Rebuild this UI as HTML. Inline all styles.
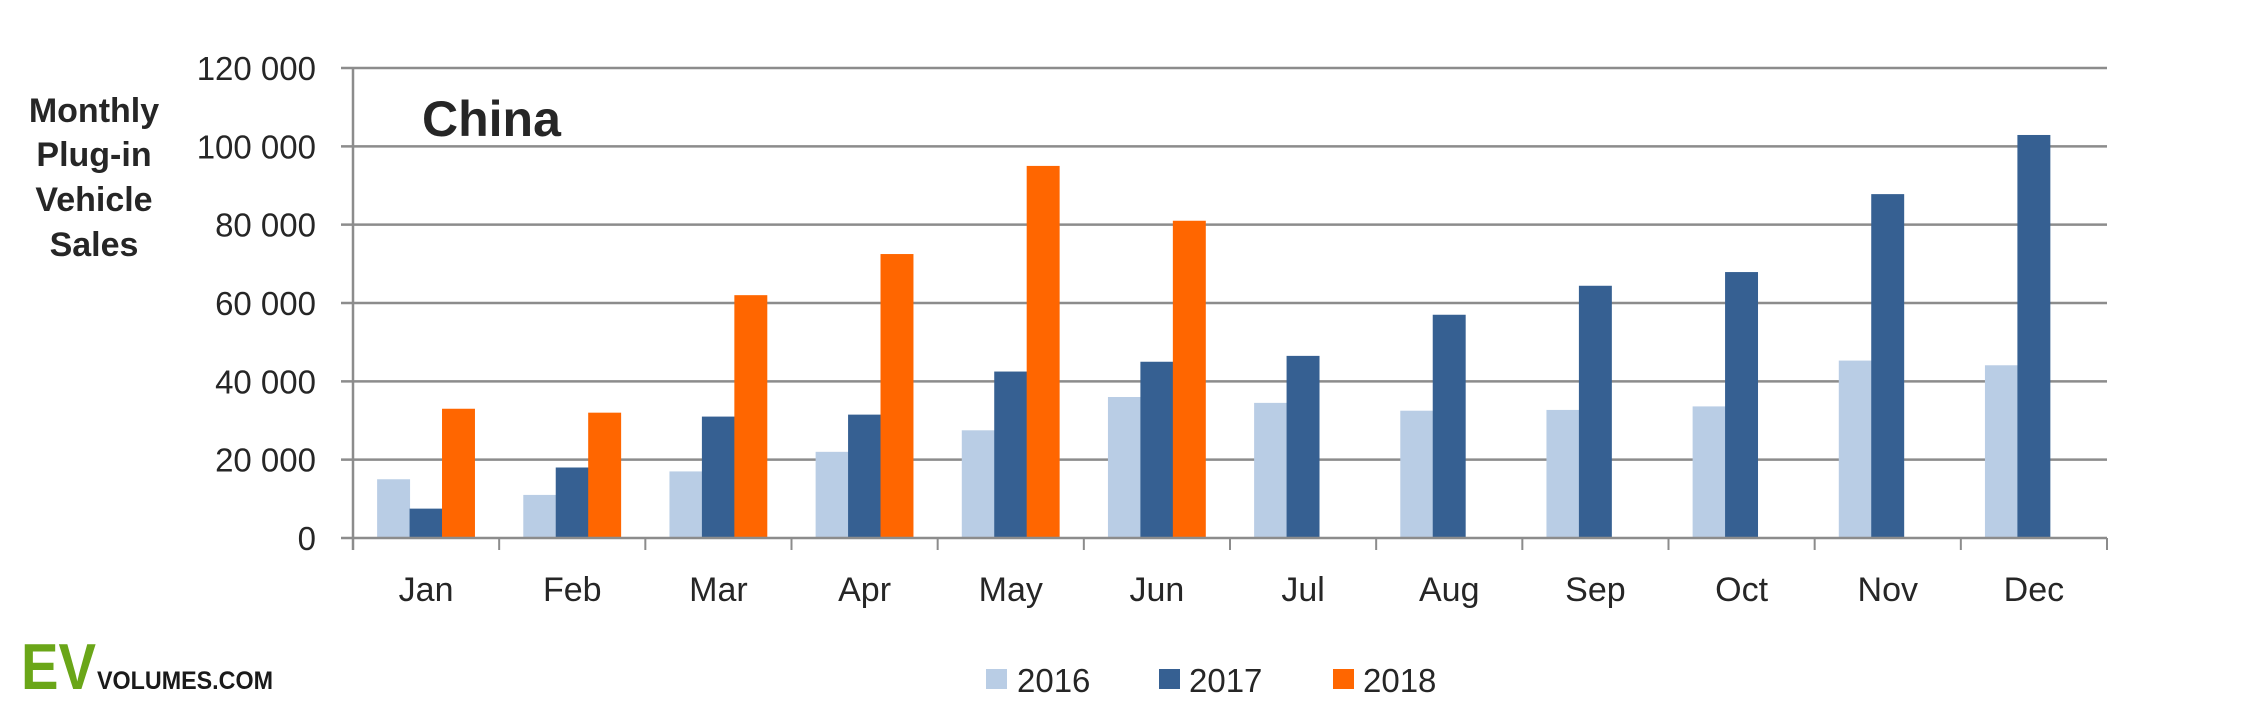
<!DOCTYPE html>
<html><head><meta charset="utf-8"><style>
html,body{margin:0;padding:0;background:#fff;}
svg{display:block;font-family:"Liberation Sans",sans-serif;}
</style></head><body>
<svg id="chart" width="2245" height="714" viewBox="0 0 2245 714">
<g id="grid"></g>
<g id="bars"></g>
<g id="axes"></g>
<g font-weight="bold" font-size="34" fill="#262626" text-anchor="middle">
<text x="94" y="122">Monthly</text>
<text x="94" y="166">Plug-in</text>
<text x="94" y="211">Vehicle</text>
<text x="94" y="256">Sales</text>
</g>
<text x="422" y="136" font-size="50" font-weight="bold" fill="#262626">China</text>
<g font-size="33" fill="#262626">
<g><rect x="986" y="669" width="21" height="20" fill="#b9cde5"/><text x="1017" y="692">2016</text></g>
<g><rect x="1159" y="669" width="21" height="20" fill="#366092"/><text x="1189" y="692">2017</text></g>
<g><rect x="1333" y="669" width="21" height="20" fill="#ff6600"/><text x="1363" y="692">2018</text></g>
</g>
<g>
<text x="21" y="689" font-size="65" font-weight="bold" fill="#6aa618" textLength="75" lengthAdjust="spacingAndGlyphs">EV</text>
<text x="97" y="689" font-size="25" font-weight="bold" fill="#1a1a1a" textLength="176" lengthAdjust="spacingAndGlyphs">VOLUMES.COM</text>
</g>
</svg>
<script>
const categories=["Jan","Feb","Mar","Apr","May","Jun","Jul","Aug","Sep","Oct","Nov","Dec"];
const series2016=[15000,11000,17000,22000,27500,36000,34500,32500,32700,33600,45300,44100];
const series2017=[7500,18000,31000,31500,42500,45000,46500,57000,64400,67900,87800,102900];
const series2018=[33000,32000,62000,72500,95000,81000,null,null,null,null,null,null];
const yTicks=[0,20000,40000,60000,80000,100000,120000];
const yTickLabels=["0","20 000","40 000","60 000","80 000","100 000","120 000"];
const NS="http://www.w3.org/2000/svg";
const X0=353,X1=2107,Y0=538,Y1=68,YMAX=120000;
const cw=(X1-X0)/categories.length;
function y(v){return Y0-(v/YMAX)*(Y0-Y1);}
function xc(i){return X0+cw*i;}
function mk(tag,attrs,parent){const e=document.createElementNS(NS,tag);for(const k in attrs)e.setAttribute(k,attrs[k]);parent.appendChild(e);return e;}
const grid=document.getElementById('grid'),bars=document.getElementById('bars'),axes=document.getElementById('axes');
yTicks.forEach((t,i)=>{
 if(t>0){const l=mk('line',{x1:X0-12,x2:X1,y1:y(t),y2:y(t),stroke:'#8c8c8c','stroke-width':2.5},grid);
 
 }
 const tx=mk('text',{x:316,y:y(t)+12,'font-size':33,fill:'#262626','text-anchor':'end'},axes);
 tx.textContent=yTickLabels[i];
 
 
});
const bw=cw*0.222,off=cw*0.165;
const all=[[series2016,'#b9cde5','2016'],[series2017,'#366092','2017'],[series2018,'#ff6600','2018']];
categories.forEach((c,i)=>{
 all.forEach((s,j)=>{
  const v=s[0][i]; if(v==null)return;
  const r=mk('rect',{x:xc(i)+off+j*bw,y:y(v),width:bw+0.5,height:Y0-y(v),fill:s[1]},bars);
  
  
 });
 const lt=mk('text',{x:xc(i)+cw/2,y:601,'font-size':34,fill:'#262626','text-anchor':'middle'},axes);
 lt.textContent=c;
 
 
});
const ax=mk('line',{x1:X0-12,x2:X1,y1:Y0,y2:Y0,stroke:'#8c8c8c','stroke-width':2.5},axes);


const ay=mk('line',{x1:X0,x2:X0,y1:Y1,y2:Y0+12,stroke:'#8c8c8c','stroke-width':2.5},axes);


for(let i=1;i<=categories.length;i++){
 const tk=mk('line',{x1:xc(i),x2:xc(i),y1:Y0,y2:Y0+12,stroke:'#8c8c8c','stroke-width':2},axes);
 
 
}
</script>
</body></html>
